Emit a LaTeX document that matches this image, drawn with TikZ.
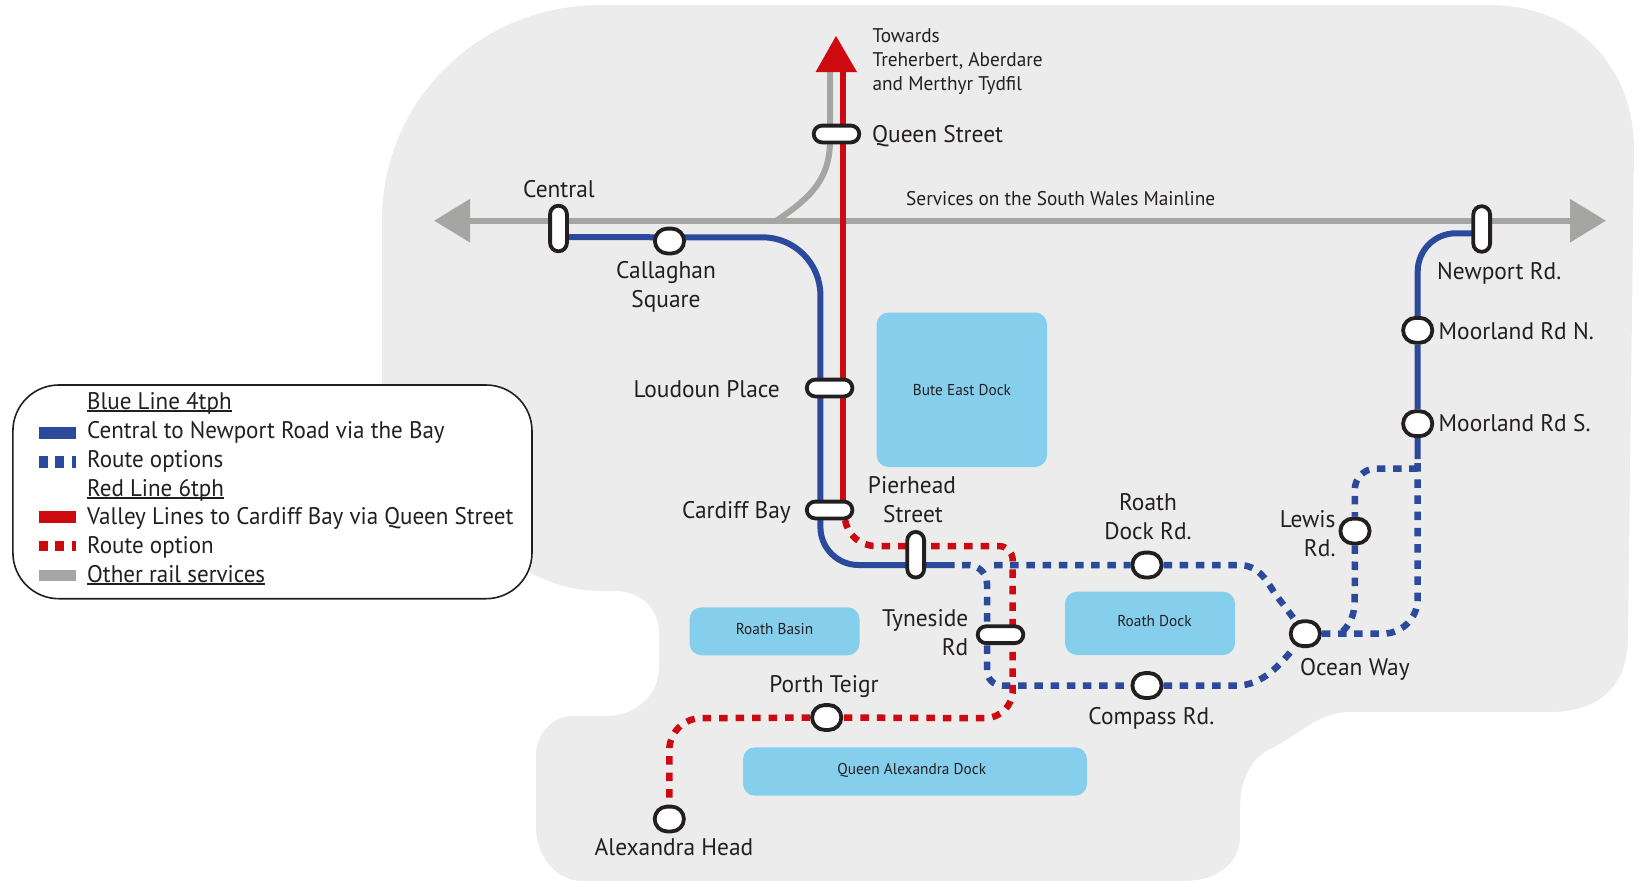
\documentclass[tikz,border=0pt]{standalone}
\usepackage{fontspec}
\setmainfont[FakeStretch=0.975]{PT Sans}
\newfontfamily\legfont[FakeStretch=0.96]{PT Sans}
\usetikzlibrary{arrows.meta,calc}
\definecolor{bgc}{HTML}{ECECEC}
\definecolor{bluec}{HTML}{2B4A9B}
\definecolor{redc}{HTML}{CC0A10}
\definecolor{grayc}{HTML}{A5A5A4}
\definecolor{dockc}{HTML}{85CFEC}
\definecolor{inkc}{HTML}{231F20}
\newcommand{\ulx}[1]{\setbox0\hbox{#1}\rlap{\rule[-2.6pt]{\wd0}{1.2pt}}\box0}
\pgfdeclarelayer{back}\pgfdeclarelayer{lines}
\pgfsetlayers{back,lines,main}
\tikzset{
 lbl/.style={inner sep=0pt,text=inkc,font=\fontsize{24}{29}\selectfont},
 small/.style={inner sep=0pt,text=inkc,font=\fontsize{19.8}{24}\selectfont},
 docktxt/.style={inner sep=0pt,text=inkc,font=\fontsize{15.7}{18}\selectfont},
 leg/.style={inner sep=0pt,text=inkc,anchor=base west,font=\legfont\fontsize{24}{29}\selectfont},
 dockbox/.style={fill=dockc,rounded corners=12pt},
 hst/.style={draw=inkc,line width=3.8pt,fill=white,inner sep=0pt,minimum width=45.6pt,minimum height=16.8pt,rounded corners=8.4pt},
 vst/.style={draw=inkc,line width=3.8pt,fill=white,inner sep=0pt,minimum width=16.8pt,minimum height=45.6pt,rounded corners=8.4pt},
 cst/.style={draw=inkc,line width=3.8pt,fill=white,inner sep=0pt,minimum width=29.2pt,minimum height=24.8pt,rounded corners=12.4pt},
 blueline/.style={draw=bluec,line width=6pt},
 bluedash/.style={draw=bluec,line width=6.5pt,dash pattern=on 8.5pt off 7.7pt},
 redline/.style={draw=redc,line width=6pt},
 reddash/.style={draw=redc,line width=6.5pt,dash pattern=on 8.5pt off 8pt},
 grayline/.style={draw=grayc,line width=6pt},
}
\begin{document}
\begin{tikzpicture}[x=1pt,y=-1pt]
\useasboundingbox (0,0) rectangle (1650,881);
% stations
\node[vst] (central) at (558.5,228.5) {};
\node[cst] (callaghan) at (669.5,241) {};
\node[hst] (queen) at (836.5,134) {};
\node[hst] (loudoun) at (829.6,388) {};
\node[hst] (bay) at (829.6,510) {};
\node[vst] (pierhead) at (915.7,554.7) {};
\node[hst] (tyneside) at (1000.5,634.7) {};
\node[cst] (roathrd) at (1147,565) {};
\node[cst] (compass) at (1147,685.5) {};
\node[cst] (porth) at (826.7,717.5) {};
\node[cst] (alexandra) at (669.3,819) {};
\node[cst] (ocean) at (1305.3,633.7) {};
\node[cst] (lewis) at (1355,531) {};
\node[cst] (moorn) at (1417.7,330.3) {};
\node[cst] (moors) at (1417.7,423.7) {};
\node[vst] (newport) at (1481.7,229) {};
% free ends
\coordinate (wend) at (434,220.7);
\coordinate (eend) at (1606,220.7);
\coordinate (gtop) at (830,72);
\coordinate (rtop) at (842.7,72);
\coordinate (solidend) at (954.6,565);
\coordinate (moorend) at (1417.7,459);
\begin{pgfonlayer}{back}
 \fill[bgc] (600,5) -- (1489,5) .. controls (1575,5) and (1634,65) .. (1634,150) -- (1628,637)
  .. controls (1628,685) and (1600,712) .. (1550,712) -- (1347,712)
  .. controls (1315,714) and (1295,738) .. (1268,750)
  .. controls (1247,762) and (1240,785) .. (1240,810) -- (1240,835)
  .. controls (1240,865) and (1215,881) .. (1184,881) -- (583,881)
  .. controls (555,881) and (536,855) .. (536,827) -- (536,755)
  .. controls (536,735) and (552,716) .. (572,716) -- (607,716)
  .. controls (635,716) and (659,695) .. (659,668) -- (659,633)
  .. controls (659,608) and (640,591) .. (615,591) -- (600,591)
  .. controls (575,591) and (550,583) .. (530,573)
  .. controls (450,530) and (382,470) .. (382,380) -- (382,220)
  .. controls (382,100) and (480,5) .. (600,5) -- cycle;
 \fill[dockbox] (876.6,312.5) rectangle (1047,467);
 \fill[dockbox] (689.5,607.3) rectangle (859.5,655.3);
 \fill[dockbox] (1065,591.7) rectangle (1235,655);
 \fill[dockbox] (743,747.3) rectangle (1087,795.7);
\end{pgfonlayer}
\begin{pgfonlayer}{lines}
 % grey
 \draw[grayline,{Triangle[length=36pt,width=42pt]}-{Triangle[length=36pt,width=42pt]}] (wend) -- (eend);
 \draw[grayline] (gtop) -- (830,140) .. controls (830,180) and (810,198) .. (776,221);
 % blue solid
 \draw[blueline] ($(central)+(0,8.5)$) -- (callaghan |- 0,237.3) [rounded corners=58pt] -- (820.4,237.3) [rounded corners=38pt] -- (820.4,565) [sharp corners] -- (solidend);
 \draw[blueline] ($(newport)+(0,4.3)$) [rounded corners=38pt] -- (1417.7,233.3) [sharp corners] -- (moorn) -- (moors) -- (moorend);
 % blue dashed
 \draw[bluedash] (994,565) -- (roathrd) -- (1238,565) .. controls (1258,565) and (1265,578) .. (1274.5,593) -- (ocean);
 \draw[bluedash] (962,565) [rounded corners=19pt] -- (987,565) [rounded corners=15pt] -- (987,685.5) [sharp corners] -- (compass) -- (1237,685.5) .. controls (1262,685.5) and (1280,665) .. (ocean);
 \draw[bluedash] (ocean) [rounded corners=35pt] -- (1417.7,633.7) [sharp corners] -- (moorend);
 \draw[bluedash] (1417.7,468.7) [rounded corners=21pt] -- (1354.7,468.7) [sharp corners] -- (lewis) -- (1354.7,600) .. controls (1354.7,615) and (1350,625) .. (1340,634);
 % red
 \draw[redline] (rtop) -- (842.7,510);
 \fill[redc] (815.6,72) -- (857,72) -- (836,36) -- cycle;
 \draw[reddash] (845,520) .. controls (848,535) and (860,546) .. (876,546) [rounded corners=14pt] -- (1012.7,546) [rounded corners=28pt] -- (1012.7,718.3) [sharp corners] -- (porth) [rounded corners=32pt] -- (669.3,718.3) [sharp corners] -- (alexandra);
\end{pgfonlayer}
% labels
\node[small,anchor=base west,align=left] (towards) at (872.4,90.7) {Towards\\Treherbert, Aberdare\\and Merthyr Tydfil};
\node[lbl,anchor=base west] (lqueen) at (872,142.5) {Queen Street};
\node[lbl,anchor=base] (lcentral) at (559,197) {Central};
\node[small,anchor=base west] (lservices) at (906,205) {Services on the South Wales Mainline};
\node[lbl,anchor=base,align=center] (lcallaghan) at (666,307.5) {Callaghan\\Square};
\node[lbl,anchor=base east] (lloudoun) at (780,397) {Loudoun Place};
\node[lbl,anchor=base east] (lbay) at (791,518.3) {Cardiff Bay};
\node[lbl,anchor=base,align=center] (lpierhead) at (912,522.5) {Pierhead\\\hspace{2pt}Street};
\node[lbl,anchor=base,align=center] (lroathrd) at (1148,539.8) {Roath\\Dock Rd.};
\node[lbl,anchor=base east,align=right] (ltyne) at (968.5,655) {Tyneside\\Rd};
\node[lbl,anchor=base] (lcompass) at (1151.4,724) {Compass Rd.};
\node[lbl,anchor=base] (lporth) at (824,692) {Porth Teigr};
\node[lbl,anchor=base] (lalex) at (674,855) {Alexandra Head};
\node[lbl,anchor=base west] (locean) at (1300,675) {Ocean Way};
\node[lbl,anchor=base east,align=right] (llewis) at (1335.7,556) {Lewis\hspace{5pt}\\Rd.};
\node[lbl,anchor=base west] (lnewport) at (1437,279.3) {Newport Rd.};
\node[lbl,anchor=base west] (lmoorn) at (1438.5,339) {Moorland Rd N.};
\node[lbl,anchor=base west] (lmoors) at (1438.5,431) {Moorland Rd S.};
\node[docktxt] (dbute) at (962,390) {Bute East Dock};
\node[docktxt] (dbasin) at (774.5,629.3) {Roath Basin};
\node[docktxt] (ddock) at (1154.5,620.7) {Roath Dock};
\node[docktxt] (dqueen) at (911.7,770) {Queen Alexandra Dock};
% legend
\draw[inkc,fill=white,line width=1.6pt,rounded corners=46pt] (12.9,385) rectangle (532,598.7);
\draw[bluec,line width=12pt] (38.6,432.7) -- (76,432.7);
\draw[bluec,line width=12pt,dash pattern=on 9pt off 7.8pt] (38.6,461.7) -- (76,461.7);
\draw[redc,line width=12pt] (38.6,517.2) -- (76,517.2);
\draw[redc,line width=10pt,dash pattern=on 9pt off 7.8pt] (38.6,546) -- (76,546);
\draw[grayc,line width=10.7pt] (38.6,575.3) -- (76,575.3);
\node[leg] (k1) at (87,409) {\ulx{Blue Line 4tph}};
\node[leg] (k2) at (87,438) {Central to Newport Road via the Bay};
\node[leg] (k3) at (87,467) {Route options};
\node[leg] (k4) at (87,496) {\ulx{Red Line 6tph}};
\node[leg] (k5) at (87,524.3) {Valley Lines to Cardiff Bay via Queen Street};
\node[leg] (k6) at (87,553.3) {Route option};
\node[leg] (k7) at (87,582) {\ulx{Other rail services}};
\end{tikzpicture}
\end{document}
